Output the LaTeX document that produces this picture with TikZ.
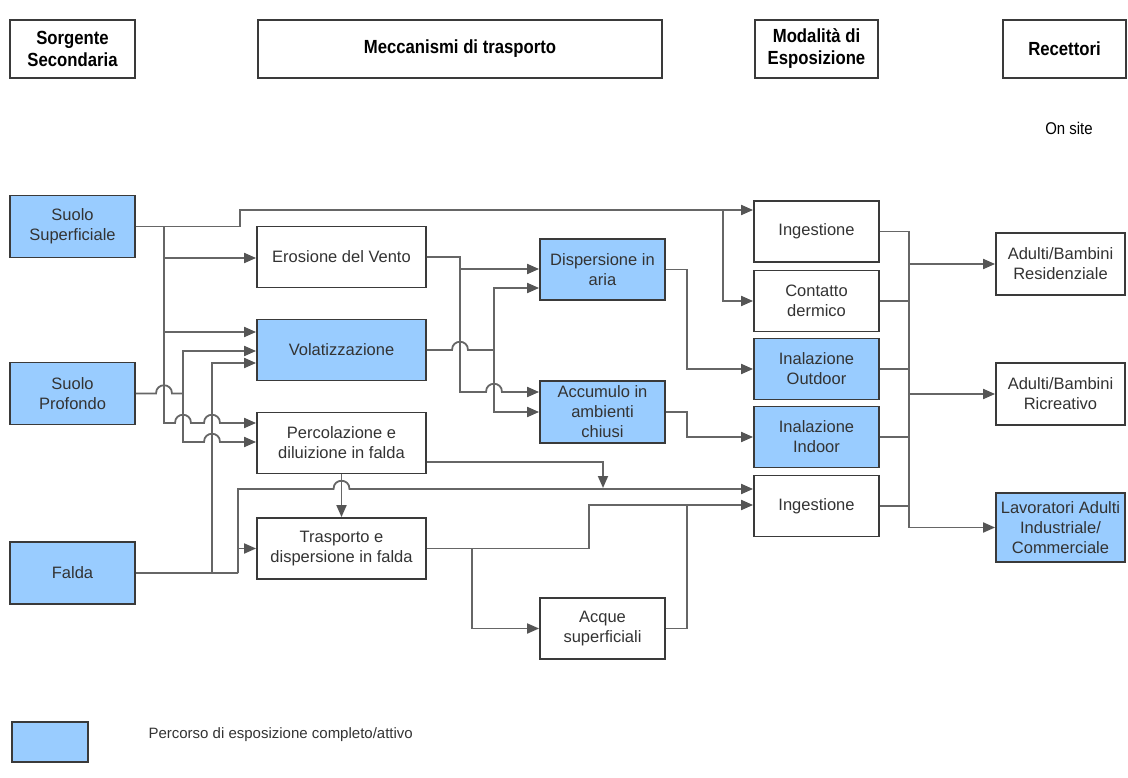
\documentclass[tikz,border=0pt]{standalone}
\usepackage{fontspec}
\setmainfont{Liberation Sans}
\newfontfamily\hdrfont[FakeStretch=0.88]{Liberation Sans}
\usetikzlibrary{arrows.meta,calc}
\definecolor{boxblue}{HTML}{99CCFF}
\definecolor{linegray}{HTML}{666666}
\definecolor{tipgray}{HTML}{555555}
\definecolor{txtgray}{HTML}{333333}
\definecolor{bordergray}{HTML}{3A3A3A}
\newcommand{\hopat}[2]{-- ({#1-8},#2) .. controls ({#1-8},{#2-11}) and ({#1+8},{#2-11}) .. ({#1+8},#2)}
\begin{document}
\begin{tikzpicture}[x=1pt,y=-1pt,
  box/.style={draw=bordergray, line width=1.8pt, fill=white, align=center, inner sep=2pt, text=txtgray, font=\fontsize{16.5}{20}\selectfont},
  bluebox/.style={box, fill=boxblue},
  hdr/.style={draw=bordergray, line width=1.8pt, align=center, font=\hdrfont\bfseries\fontsize{19}{22}\selectfont, minimum height=58pt},
  conn/.style={draw=linegray, line width=1.8pt},
  arr/.style={conn, -{Triangle[length=12pt,width=10pt,color=tipgray]}},
  src/.style={bluebox, minimum width=125pt, minimum height=62pt},
  mech/.style={minimum width=169pt, minimum height=61pt},
  mid/.style={minimum width=125pt, minimum height=61pt},
  expo/.style={minimum width=125pt, minimum height=61pt},
  rec/.style={minimum width=129pt, minimum height=62pt},
]
\useasboundingbox (0,0) rectangle (1128,778);

% headers
\node[hdr, minimum width=125pt] (hs) at (72.5,49) {Sorgente\\Secondaria};
\node[hdr, minimum width=404pt] (hm) at (460,49) {Meccanismi di trasporto};
\node[hdr, minimum width=123pt] (he) at (816.5,49) {Modalità di\\Esposizione};
\node[hdr, minimum width=123pt] (hr) at (1064.5,49) {Recettori};
\node[font=\hdrfont\fontsize{17}{20}\selectfont] (os) at (1069,128) {On site};

% sources
\node[src] (ss) at (72.5,226.5) {Suolo\\Superficiale};
\node[src] (sp) at (72.5,393.5) {Suolo\\Profondo};
\node[src] (fa) at (72.5,573) {Falda};

% transport mechanisms
\node[box, mech] (er) at (341.5,257) {Erosione del Vento};
\node[bluebox, mech] (vo) at (341.5,350) {Volatizzazione};
\node[box, mech] (pe) at (341.5,443) {Percolazione e\\diluizione in falda};
\node[box, mech] (tr) at (341.5,548.5) {Trasporto e\\dispersione in falda};
\node[bluebox, mid] (di) at (602.5,269.5) {Dispersione in\\aria};
\node[bluebox, mid, minimum height=62pt] (ac) at (602.5,412) {Accumulo in\\ambienti\\chiusi};
\node[box, mid] (aq) at (602.5,628.5) {Acque\\superficiali};

% exposure
\node[box, expo] (i1) at (816.5,231.5) {Ingestione};
\node[box, expo] (co) at (816.5,301) {Contatto\\dermico};
\node[bluebox, expo] (io) at (816.5,369) {Inalazione\\Outdoor};
\node[bluebox, expo] (ii) at (816.5,437) {Inalazione\\Indoor};
\node[box, expo] (i2) at (816.5,506) {Ingestione};

% receptors
\node[box, rec] (r1) at (1060.5,264) {Adulti/Bambini\\Residenziale};
\node[box, rec] (r2) at (1060.5,394) {Adulti/Bambini\\Ricreativo};
\node[bluebox, rec, minimum height=69pt] (r3) at (1060.5,527.5) {Lavoratori Adulti\\Industriale/\\Commerciale};

% legend
\node[bluebox, minimum width=76pt, minimum height=40pt] (lg) at (50,742) {};
\node[anchor=west, text=txtgray, font=\fontsize{15}{18}\selectfont] (lgt) at (145,735) {Percorso di esposizione completo/attivo};

% junction coordinates
\coordinate (jA) at (164,226.5);
\coordinate (jB) at (723,210);
\coordinate (jC) at (183,393.5);
\coordinate (jD) at (238,573);
\coordinate (jE) at (460,257);
\coordinate (jF) at (494,350);

% Suolo Superficiale
\draw[arr] (ss.east) -| (240,210) -- (i1.west |- jB);
\draw[arr] (jB) |- (co.west);
\draw[arr] (jA) -- (164,423) \hopat{183}{423} \hopat{212}{423} -- (pe.west |- 0,423);
\draw[arr] (164,258) -- (er.west |- 0,258);
\draw[arr] (164,332) -- (vo.west |- 0,332);

% Suolo Profondo
\draw[conn] (sp.east) \hopat{164}{393.5} -- (jC);
\draw[arr] (183,442) -- (183,351) -- (vo.west |- 0,351);
\draw[arr] (183,351) -- (183,442) \hopat{212}{442} -- (pe.west |- 0,442);

% Falda
\draw[conn] (fa.east) -- (jD);
\draw[arr] (212,573) -- (212,363) -- (vo.west |- 0,363);
\draw[arr] (jD) -- (238,489) \hopat{341.5}{489} -- (i2.west |- 0,489);
\draw[arr] (238,548.5) -- (tr.west);

% Percolazione / Trasporto
\draw[arr] (pe.east |- 0,462) -| (603,488);
\draw[arr] (pe.south) -- (tr.north);
\draw[arr] (tr.east) -| (589,505) -- (i2.west |- 0,505);
\draw[arr] (472,548.5) |- (aq.west);
\draw[conn] (aq.east) -| (687,505);

% Erosione / Volatizzazione
\draw[arr] (er.east) -- (jE) -- (460,392) \hopat{494}{392} -- (ac.west |- 0,392);
\draw[arr] (460,269) -- (di.west |- 0,269);
\draw[conn] (vo.east) \hopat{460}{350} -- (jF);
\draw[arr] (jF) -- (494,288) -- (di.west |- 0,288);
\draw[arr] (jF) -- (494,412) -- (ac.west |- 0,412);

% Dispersione / Accumulo
\draw[arr] (di.east) -- (687,269.5) |- (io.west);
\draw[arr] (ac.east) -- (687,412) |- (ii.west);

% exposure to receptors
\draw[conn] (i1.east) -- (909,231.5);
\draw[conn] (co.east) -- (909,301);
\draw[conn] (io.east) -- (909,369);
\draw[conn] (ii.east) -- (909,437);
\draw[conn] (i2.east) -- (909,506);
\draw[conn] (909,231.5) -- (909,527.5);
\draw[arr] (909,264) -- (r1.west);
\draw[arr] (909,394) -- (r2.west);
\draw[arr] (909,527.5) -- (r3.west);
\end{tikzpicture}
\end{document}
